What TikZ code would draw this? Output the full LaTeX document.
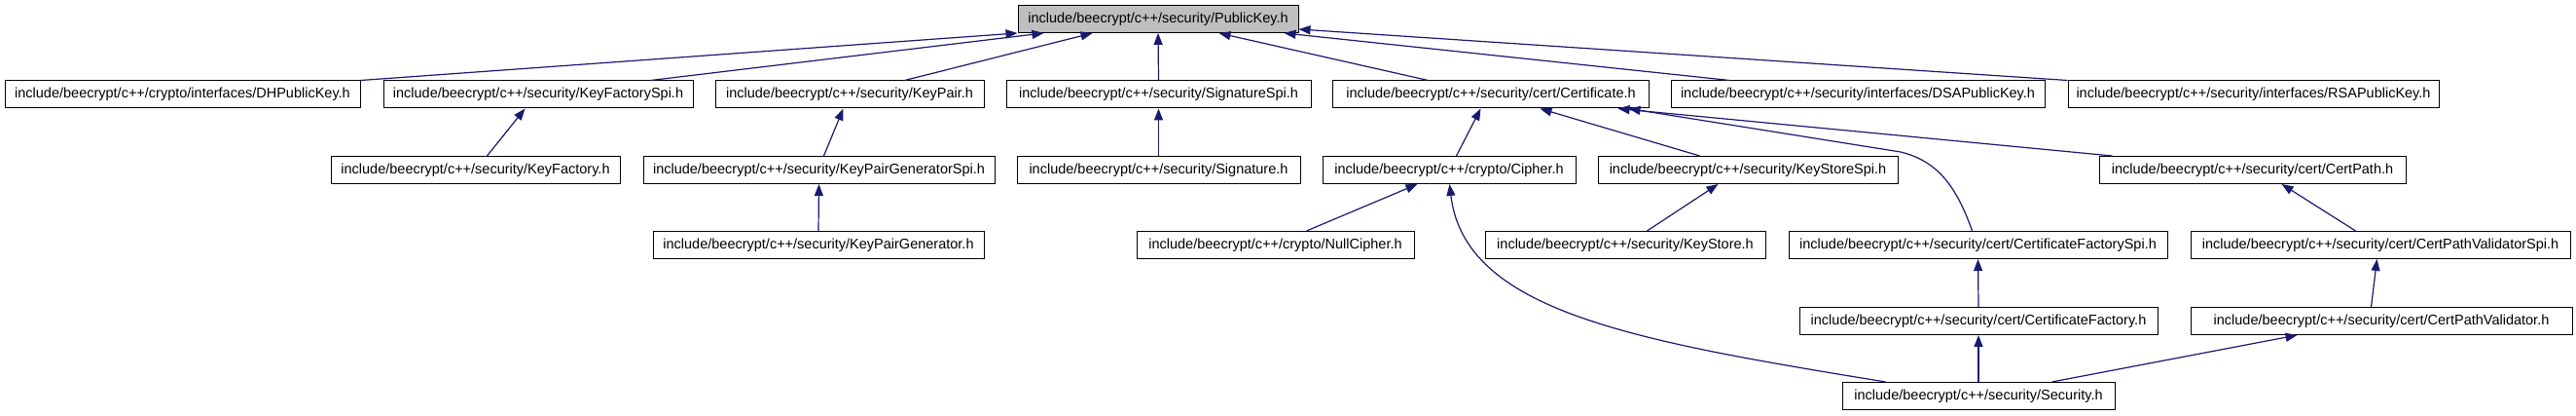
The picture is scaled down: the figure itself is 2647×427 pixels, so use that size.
\documentclass[tikz,border=0pt]{standalone}
\usepackage{fontspec}
\setmainfont{Liberation Sans}
\usetikzlibrary{arrows.meta}
\definecolor{edgeblue}{HTML}{191970}
\definecolor{rootgray}{HTML}{BFBFBF}

\begin{document}
\begin{tikzpicture}[x=1pt, y=-1pt,
  file/.style={draw=black, line width=1pt, fill=white, minimum height=28pt,
    inner sep=0pt, font=\fontsize{14.5}{16}\selectfont},
  dep/.style={draw=edgeblue, line width=1.2pt, -{Triangle[length=12pt,width=9pt]}}]
  \useasboundingbox (0,0) rectangle (2647,427);

  % top
  \node[file, fill=rootgray, minimum width=288pt] (pk) at (1190,19.5) {include/beecrypt/c++/security/PublicKey.h};

  % row 2
  \node[file, minimum width=365pt] (dhpub) at (187.5,97) {include/beecrypt/c++/crypto/interfaces/DHPublicKey.h};
  \node[file, minimum width=318pt] (kfspi) at (553,97) {include/beecrypt/c++/security/KeyFactorySpi.h};
  \node[file, minimum width=276pt] (keypair) at (873,97) {include/beecrypt/c++/security/KeyPair.h};
  \node[file, minimum width=313pt] (sigspi) at (1190.5,97) {include/beecrypt/c++/security/SignatureSpi.h};
  \node[file, minimum width=325pt] (cert) at (1532,97) {include/beecrypt/c++/security/cert/Certificate.h};
  \node[file, minimum width=384pt] (dsapub) at (1909,97) {include/beecrypt/c++/security/interfaces/DSAPublicKey.h};
  \node[file, minimum width=381pt] (rsapub) at (2315.5,97) {include/beecrypt/c++/security/interfaces/RSAPublicKey.h};

  % row 3
  \node[file, minimum width=297pt] (keyfactory) at (488.5,174.5) {include/beecrypt/c++/security/KeyFactory.h};
  \node[file, minimum width=361pt] (kpgspi) at (841.5,174.5) {include/beecrypt/c++/security/KeyPairGeneratorSpi.h};
  \node[file, minimum width=291pt] (signature) at (1190.5,174.5) {include/beecrypt/c++/security/Signature.h};
  \node[file, minimum width=260pt] (cipher) at (1489,174.5) {include/beecrypt/c++/crypto/Cipher.h};
  \node[file, minimum width=308pt] (ksspi) at (1796,174.5) {include/beecrypt/c++/security/KeyStoreSpi.h};
  \node[file, minimum width=315pt] (certpath) at (2314.5,174.5) {include/beecrypt/c++/security/cert/CertPath.h};

  % row 4
  \node[file, minimum width=340pt] (kpg) at (841,251.5) {include/beecrypt/c++/security/KeyPairGenerator.h};
  \node[file, minimum width=285pt] (nullcipher) at (1310.5,251.5) {include/beecrypt/c++/crypto/NullCipher.h};
  \node[file, minimum width=288pt] (keystore) at (1670,251.5) {include/beecrypt/c++/security/KeyStore.h};
  \node[file, minimum width=389pt] (cfspi) at (2032.5,251.5) {include/beecrypt/c++/security/cert/CertificateFactorySpi.h};
  \node[file, minimum width=390pt] (cpvspi) at (2446,251.5) {include/beecrypt/c++/security/cert/CertPathValidatorSpi.h};

  % row 5 and 6
  \node[file, minimum width=368pt] (certfactory) at (2033,329.5) {include/beecrypt/c++/security/cert/CertificateFactory.h};
  \node[file, minimum width=392pt] (cpv) at (2447,329.5) {include/beecrypt/c++/security/cert/CertPathValidator.h};
  \node[file, minimum width=280pt] (security) at (2033,406.5) {include/beecrypt/c++/security/Security.h};

  % edges into PublicKey.h
  \draw[dep] (dhpub.north east) -- (pk.south west);
  \draw[dep] ([xshift=275pt]kfspi.north west) -- ([xshift=27pt]pk.south west);
  \draw[dep] ([xshift=195pt]keypair.north west) -- ([xshift=77pt]pk.south west);
  \draw[dep] (sigspi.north) -- (pk.south);
  \draw[dep] ([xshift=98.5pt]cert.north west) -- ([xshift=207pt]pk.south west);
  \draw[dep] ([xshift=61pt]dsapub.north west) -- ([xshift=274pt]pk.south west);
  \draw[dep] (rsapub.north west) -- ([yshift=4pt]pk.south east);

  % second level
  \draw[dep] ([xshift=161pt]keyfactory.north west) -- ([xshift=146pt]kfspi.south west);
  \draw[dep] ([xshift=186pt]kpgspi.north west) -- ([xshift=132pt]keypair.south west);
  \draw[dep] (signature.north) -- (sigspi.south);
  \draw[dep] ([xshift=138pt]cipher.north west) -- ([xshift=152.5pt]cert.south west);
  \draw[dep] ([xshift=105pt]ksspi.north west) -- ([xshift=213.5pt]cert.south west);
  \draw[dep] ([xshift=189pt]cfspi.north west) .. controls (2010,190) and (1990,165) .. (1953,156)
    -- ([xshift=304.5pt]cert.south west);
  \draw[dep] ([xshift=14pt]certpath.north west) -- ([xshift=293.5pt]cert.south west);

  % lower levels
  \draw[dep] (kpg.north) -- (kpgspi.south);
  \draw[dep] ([xshift=175pt]nullcipher.north west) -- ([xshift=98pt]cipher.south west);
  \draw[dep] ([xshift=45pt]security.north west) .. controls (1680,350) and (1505,320)
    .. ([xshift=131pt]cipher.south west);
  \draw[dep] ([xshift=167pt]keystore.north west) -- ([xshift=124pt]ksspi.south west);
  \draw[dep] ([xshift=170pt]cpvspi.north west) -- ([xshift=188pt]certpath.south west);
  \draw[dep] (certfactory.north) -- (cfspi.south);
  \draw[dep] ([xshift=186pt]cpv.north west) -- ([xshift=192pt]cpvspi.south west);
  \draw[dep] (security.north) -- (certfactory.south);
  \draw[dep] ([xshift=216pt]security.north west) -- ([xshift=110pt]cpv.south west);
\end{tikzpicture}
\end{document}
